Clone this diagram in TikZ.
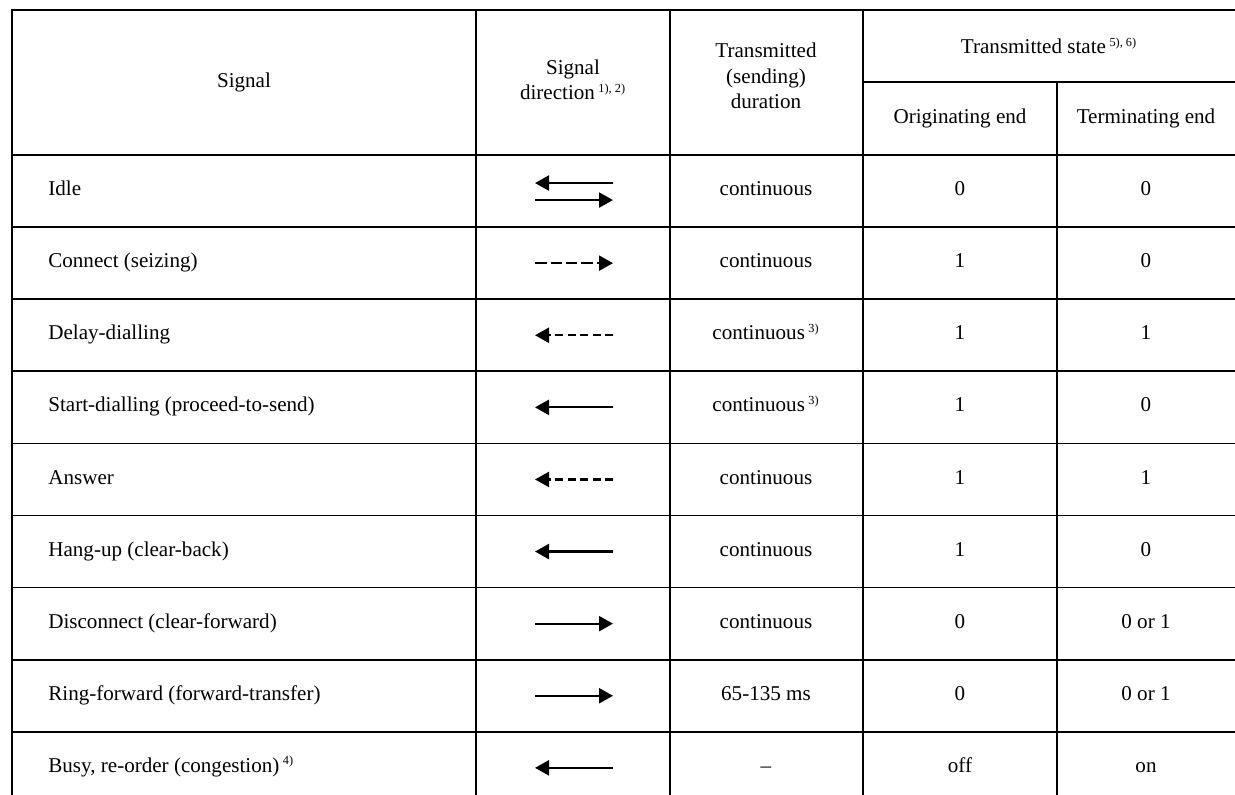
\documentclass[tikz,border=0pt]{standalone}
\usepackage{fontspec}
\setmainfont{Liberation Serif}
\usetikzlibrary{arrows.meta}
\newcommand*{\fnote}[1]{\textsuperscript{\fontsize{7}{8}\selectfont #1}}

\begin{document}
\begin{tikzpicture}[x=0.02cm, y=-0.02cm,
  every node/.style = {font=\fontsize{12}{14.5}\selectfont,
    inner sep=0pt, align=center},
  cell/.style = {text height=1.6ex, text depth=0.45ex},
  rule/.style = {line width=1pt},
  sigline/.style = {line width=1.3pt, -{Triangle[length=2.8mm, width=3mm]}},
  longdash/.style = {dash pattern=on 2.3mm off 0.8mm},
  shortdash/.style = {dash pattern=on 1.6mm off 0.9mm}
  ]
  \useasboundingbox (0,0) rectangle (1235,795);

  % rules of the table
  \draw[rule] (12,795) -- (12,10) -- (1235,10);
  \foreach \x in {476,670,863}
    \draw[rule] (\x,10) -- (\x,795);
  \draw[rule] (1057,82) -- (1057,795);
  \draw[rule] (863,82) -- (1235,82);
  \foreach \k in {0,...,8}
    \draw[rule] (12,155+72.1*\k) -- (1235,155+72.1*\k);

  % header
  \node (hsig) at (244,82) {Signal};
  \node (hdir) at (573,80) {Signal\\direction\,\fnote{1), 2)}};
  \node (hdur) at (766,76) {Transmitted\\(sending)\\duration};
  \node (hstate) at (1049,46) {Transmitted state\,\fnote{5), 6)}};
  \node (horig) at (960,118) {Originating end};
  \node (hterm) at (1146,118) {Terminating end};

  % rows
  \foreach \txt/\dur/\orig/\term [count=\i] in {
      Idle/continuous/0/0,
      Connect (seizing)/continuous/1/0,
      Delay-dialling/{continuous\,\fnote{3)}}/1/1,
      Start-dialling (proceed-to-send)/{continuous\,\fnote{3)}}/1/0,
      Answer/continuous/1/1,
      Hang-up (clear-back)/continuous/1/0,
      Disconnect (clear-forward)/continuous/0/0 or 1,
      Ring-forward (forward-transfer)/65-135 ms/0/0 or 1,
      {Busy, re-order (congestion)\,\fnote{4)}}/--/off/on}
  {
    \pgfmathsetmacro{\y}{118.95+72.1*\i}
    \node[cell, anchor=west] (sig\i) at (48,\y) {\txt};
    \coordinate (dl\i) at (535,\y);
    \coordinate (dr\i) at (613,\y);
    \node[cell] (dur\i) at (766,\y) {\dur};
    \node[cell] (org\i) at (960,\y) {\orig};
    \node[cell] (trm\i) at (1146,\y) {\term};
  }

  % signal directions
  \draw[sigline] ([yshift=1.6mm]dr1) -- ([yshift=1.6mm]dl1);
  \draw[sigline] ([yshift=-1.8mm]dl1) -- ([yshift=-1.8mm]dr1);
  \draw[sigline, longdash] (dl2) -- (dr2);
  \draw[sigline, shortdash] (dr3) -- (dl3);
  \draw[sigline] (dr4) -- (dl4);
  \draw[sigline, shortdash] (dr5) -- (dl5);
  \draw[sigline] (dr6) -- (dl6);
  \draw[sigline] (dl7) -- (dr7);
  \draw[sigline] (dl8) -- (dr8);
  \draw[sigline] (dr9) -- (dl9);
\end{tikzpicture}
\end{document}
